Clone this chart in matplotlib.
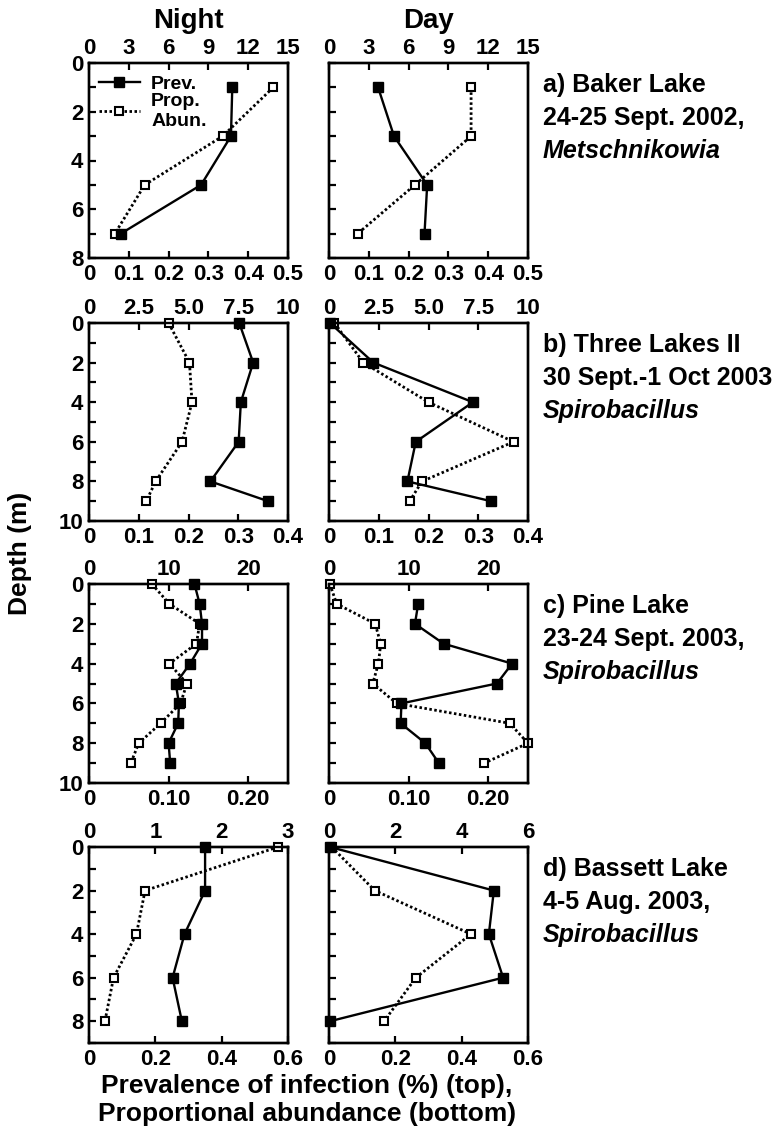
import matplotlib
matplotlib.use("Agg")
import matplotlib.pyplot as plt
from matplotlib.lines import Line2D

plt.rcParams['font.family'] = ['Liberation Sans', 'DejaVu Sans']
plt.rcParams['font.weight'] = 'bold'

# ---- data ----
# a) Baker Lake
depth_a = [1, 3, 5, 7]
prev_a_night = [10.8, 10.7, 8.45, 2.4]
abun_a_night = [0.463, 0.336, 0.14, 0.065]
prev_a_day = [3.7, 4.9, 7.4, 7.2]
abun_a_day = [0.357, 0.357, 0.216, 0.072]

# b) Three Lakes II
depth_b = [0, 2, 4, 6, 8, 9]
prev_b_night = [7.55, 8.25, 7.63, 7.52, 6.1, 9.0]
abun_b_night = [0.16, 0.202, 0.207, 0.187, 0.134, 0.115]
prev_b_day = [0.05, 2.23, 7.23, 4.36, 3.94, 8.15]
abun_b_day = [0.011, 0.069, 0.2, 0.371, 0.187, 0.162]

# c) Pine Lake
depth_c = [0, 1, 2, 3, 4, 5, 6, 7, 8, 9]
prev_c_night = [13.25, 13.9, 14.2, 14.2, 12.7, 10.9, 11.3, 11.2, 10.0, 10.2]
abun_c_night = [0.079, 0.101, 0.139, 0.135, 0.101, 0.123, 0.115, 0.090, 0.0625, 0.0525]
depth_c_day_prev = [1, 2, 3, 4, 5, 6, 7, 8, 9]
prev_c_day = [11.2, 10.8, 14.4, 23.0, 21.1, 9.1, 9.0, 12.1, 13.8]
abun_c_day = [0.001, 0.0097, 0.058, 0.065, 0.062, 0.055, 0.085, 0.227, 0.25, 0.195]

# d) Bassett Lake
depth_d = [0, 2, 4, 6, 8]
prev_d_night = [1.75, 1.75, 1.44, 1.26, 1.40]
abun_d_night = [0.57, 0.169, 0.143, 0.074, 0.048]
prev_d_day = [0.03, 4.97, 4.82, 5.25, 0.03]
abun_d_day = [0.008, 0.138, 0.428, 0.262, 0.166]

# tick labels
top_ticks_a = ["0", "3", "6", "9", "12", "15"]
top_ticks_b = ["0", "2.5", "5.0", "7.5", "10"]
top_ticks_c = ["0", "10", "20"]
top_ticks_d_night = ["0", "1", "2", "3"]
top_ticks_d_day = ["0", "2", "4", "6"]
bot_ticks_a = ["0", "0.1", "0.2", "0.3", "0.4", "0.5"]
bot_ticks_b = ["0", "0.1", "0.2", "0.3", "0.4"]
bot_ticks_c = ["0", "0.10", "0.20"]
bot_ticks_d = ["0", "0.2", "0.4", "0.6"]

site_labels = [
    ("a) Baker Lake", "24-25 Sept. 2002,", "Metschnikowia"),
    ("b) Three Lakes II", "30 Sept.-1 Oct 2003", "Spirobacillus"),
    ("c) Pine Lake", "23-24 Sept. 2003,", "Spirobacillus"),
    ("d) Bassett Lake", "4-5 Aug. 2003,", "Spirobacillus"),
]

W, H = 783, 1138
fig = plt.figure(figsize=(W / 100, H / 100), dpi=100)

col_x = [89, 329]
col_w = 199
row_top = [63, 323, 584, 847]
row_bot = [258, 521, 783, 1043]
depth_max = [8, 10, 10, 9]

# each panel: (depth_prev, prev, depth_abun, abun, top labels, prev max, bottom labels, abun max)
rows = [
    ((depth_a, prev_a_night, depth_a, abun_a_night, top_ticks_a, 15, bot_ticks_a, 0.5),
     (depth_a, prev_a_day, depth_a, abun_a_day, top_ticks_a, 15, bot_ticks_a, 0.5)),
    ((depth_b, prev_b_night, depth_b, abun_b_night, top_ticks_b, 10, bot_ticks_b, 0.4),
     (depth_b, prev_b_day, depth_b, abun_b_day, top_ticks_b, 10, bot_ticks_b, 0.4)),
    ((depth_c, prev_c_night, depth_c, abun_c_night, top_ticks_c, 25, bot_ticks_c, 0.25),
     (depth_c_day_prev, prev_c_day, depth_c, abun_c_day, top_ticks_c, 25, bot_ticks_c, 0.25)),
    ((depth_d, prev_d_night, depth_d, abun_d_night, top_ticks_d_night, 3, bot_ticks_d, 0.6),
     (depth_d, prev_d_day, depth_d, abun_d_day, top_ticks_d_day, 6, bot_ticks_d, 0.6)),
]

tick_fs = 16
dots = (0, (0.9, 0.9))
for r, row in enumerate(rows):
    for c, panel in enumerate(row):
        dp, prev, da, abun, tlabels, pmax, blabels, amax = panel
        rect = [col_x[c] / W, 1 - row_bot[r] / H, col_w / W, (row_bot[r] - row_top[r]) / H]
        ax = fig.add_axes(rect)
        ax.plot(abun, da, color='black', lw=2.0, ls=dots, marker='s', ms=5.5,
                mfc='white', mec='black', mew=1.5, clip_on=False, zorder=3)
        ax.set_xlim(0, amax)
        ax.set_ylim(depth_max[r], 0)
        ax.set_xticks([float(v) for v in blabels])
        ax.set_xticklabels(blabels)
        ax.set_yticks(range(depth_max[r] + 1))
        if c == 0:
            ax.set_yticklabels([str(d) if d % 2 == 0 else "" for d in range(depth_max[r] + 1)])
        else:
            ax.set_yticklabels([])
        ax.tick_params(direction='in', length=5, width=1.6, labelsize=tick_fs, pad=4)

        ax2 = ax.twiny()
        ax2.plot(prev, dp, color='black', lw=1.7, marker='s', ms=6.5,
                 mfc='black', mec='black', clip_on=False, zorder=4)
        ax2.set_xlim(0, pmax)
        ax2.set_xticks([float(v) for v in tlabels])
        ax2.set_xticklabels(tlabels)
        ax2.tick_params(direction='in', length=5, width=1.6, labelsize=tick_fs, pad=3)
        for a in (ax, ax2):
            for s in a.spines.values():
                s.set_linewidth(1.7)

        if r == 0 and c == 0:
            h_prev = Line2D([], [], color='black', lw=1.7, marker='s', ms=6.5, mfc='black')
            h_abun = Line2D([], [], color='black', lw=2.0, ls=dots, marker='s', ms=5.5,
                            mfc='white', mew=1.5)
            ax2.legend([h_prev, h_abun], ["Prev.", "Prop.\nAbun."], loc='upper left',
                       bbox_to_anchor=(0.0, 0.985), frameon=False, fontsize=14,
                       handlelength=2.1, handletextpad=0.6, labelspacing=0.0,
                       borderaxespad=0.3, borderpad=0.2)

    # site annotation at right
    y0 = row_top[r] + 22
    line1, line2, line3 = site_labels[r]
    fig.text(543 / W, 1 - y0 / H, line1, fontsize=18, va='center', ha='left')
    fig.text(543 / W, 1 - (y0 + 33) / H, line2, fontsize=18, va='center', ha='left')
    fig.text(543 / W, 1 - (y0 + 66) / H, line3, fontsize=18, va='center', ha='left', style='italic')

fig.text((col_x[0] + col_w / 2) / W, 1 - 21 / H, "Night", fontsize=20, ha='center', va='center')
fig.text((col_x[1] + col_w / 2) / W, 1 - 21 / H, "Day", fontsize=20, ha='center', va='center')
fig.text(20 / W, 1 - 553 / H, "Depth (m)", fontsize=19, rotation=90, ha='center', va='center')
fig.text(307 / W, 1 - 1100 / H, "Prevalence of infection (%) (top),\nProportional abundance (bottom)",
         fontsize=19, ha='center', va='center', linespacing=1.25)

fig.savefig("out.png", dpi=100)
